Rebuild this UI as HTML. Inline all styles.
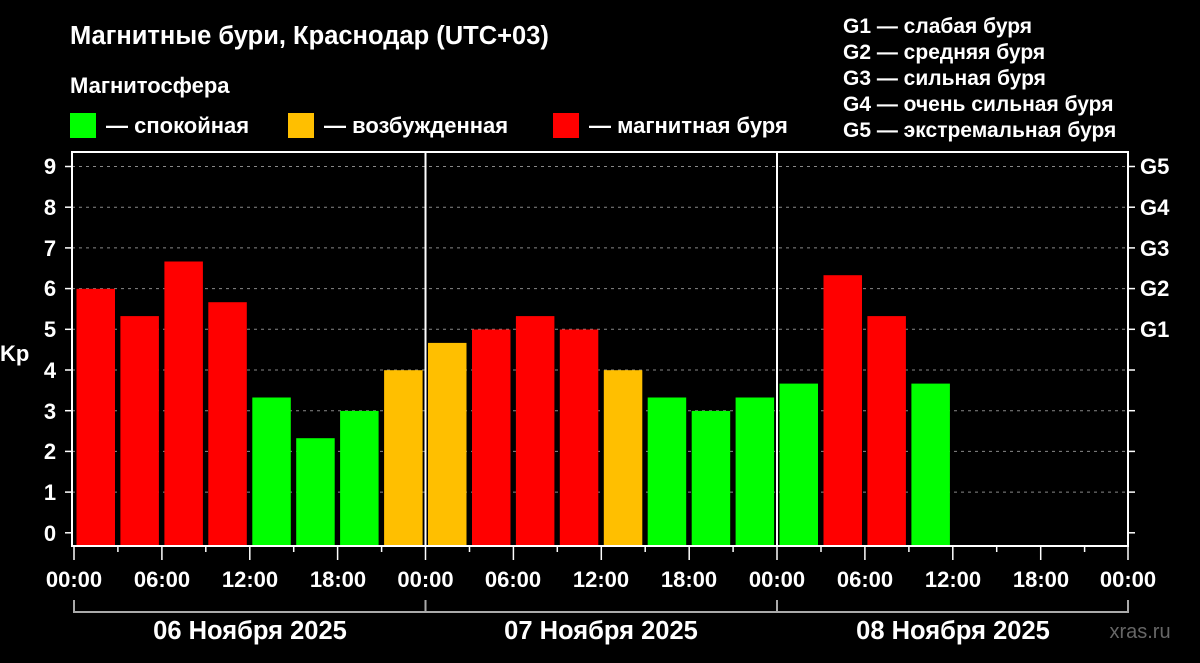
<!DOCTYPE html>
<html><head><meta charset="utf-8"><style>
html,body{margin:0;padding:0;background:#000;}
svg{display:block}
text{font-family:"Liberation Sans",sans-serif;font-weight:bold;fill:#fff}
</style></head><body>
<svg width="1200" height="663" viewBox="0 0 1200 663">
<rect width="1200" height="663" fill="#000"/>
<text x="70" y="44" font-size="25.5">Магнитные бури, Краснодар (UTC+03)</text>
<text x="70" y="93" font-size="22">Магнитосфера</text>
<rect x="70" y="113" width="26" height="25" fill="#00ff00"/>
<text x="106" y="133" font-size="22">— спокойная</text>
<rect x="288" y="113" width="26" height="25" fill="#ffbf00"/>
<text x="324" y="133" font-size="22">— возбужденная</text>
<rect x="553" y="113" width="26" height="25" fill="#ff0000"/>
<text x="589" y="133" font-size="22">— магнитная буря</text>
<g font-size="21">
<text x="843" y="33">G1 — слабая буря</text>
<text x="843" y="59">G2 — средняя буря</text>
<text x="843" y="85">G3 — сильная буря</text>
<text x="843" y="111">G4 — очень сильная буря</text>
<text x="843" y="137">G5 — экстремальная буря</text>
</g>
<g stroke="#888" stroke-dasharray="3,4" stroke-width="1">
<line x1="72" x2="1128" y1="166.5" y2="166.5"/>
<line x1="72" x2="1128" y1="207.2" y2="207.2"/>
<line x1="72" x2="1128" y1="247.9" y2="247.9"/>
<line x1="72" x2="1128" y1="288.6" y2="288.6"/>
<line x1="72" x2="1128" y1="329.3" y2="329.3"/>
<line x1="72" x2="1128" y1="370" y2="370"/>
<line x1="72" x2="1128" y1="410.7" y2="410.7"/>
<line x1="72" x2="1128" y1="451.4" y2="451.4"/>
<line x1="72" x2="1128" y1="492.1" y2="492.1"/>
</g>
<g>
<rect x="76.5" y="288.8" width="38.5" height="257.2" fill="#ff0000"/>
<rect x="120.4" y="316.1" width="38.5" height="229.9" fill="#ff0000"/>
<rect x="164.4" y="261.5" width="38.5" height="284.5" fill="#ff0000"/>
<rect x="208.3" y="302.2" width="38.5" height="243.8" fill="#ff0000"/>
<rect x="252.3" y="397.5" width="38.5" height="148.5" fill="#00ff00"/>
<rect x="296.2" y="438.2" width="38.5" height="107.8" fill="#00ff00"/>
<rect x="340.1" y="410.9" width="38.5" height="135.1" fill="#00ff00"/>
<rect x="384.1" y="370.2" width="38.5" height="175.8" fill="#ffbf00"/>
<rect x="428.0" y="342.9" width="38.5" height="203.1" fill="#ffbf00"/>
<rect x="472.0" y="329.5" width="38.5" height="216.5" fill="#ff0000"/>
<rect x="515.9" y="316.1" width="38.5" height="229.9" fill="#ff0000"/>
<rect x="559.8" y="329.5" width="38.5" height="216.5" fill="#ff0000"/>
<rect x="603.8" y="370.2" width="38.5" height="175.8" fill="#ffbf00"/>
<rect x="647.7" y="397.5" width="38.5" height="148.5" fill="#00ff00"/>
<rect x="691.7" y="410.9" width="38.5" height="135.1" fill="#00ff00"/>
<rect x="735.6" y="397.5" width="38.5" height="148.5" fill="#00ff00"/>
<rect x="779.5" y="383.6" width="38.5" height="162.4" fill="#00ff00"/>
<rect x="823.5" y="275.2" width="38.5" height="270.8" fill="#ff0000"/>
<rect x="867.4" y="316.1" width="38.5" height="229.9" fill="#ff0000"/>
<rect x="911.4" y="383.6" width="38.5" height="162.4" fill="#00ff00"/>
</g>
<g stroke="#fff" stroke-width="2" fill="none">
<rect x="72" y="152" width="1056" height="394"/>
<line x1="425.5" x2="425.5" y1="152" y2="546"/>
<line x1="777" x2="777" y1="152" y2="546"/>
</g>
<g stroke="#fff" stroke-width="1.5">
<line x1="65" x2="72" y1="532.8" y2="532.8"/><line x1="65" x2="72" y1="492.1" y2="492.1"/><line x1="65" x2="72" y1="451.4" y2="451.4"/><line x1="65" x2="72" y1="410.7" y2="410.7"/><line x1="65" x2="72" y1="370" y2="370"/><line x1="65" x2="72" y1="329.3" y2="329.3"/><line x1="65" x2="72" y1="288.6" y2="288.6"/><line x1="65" x2="72" y1="247.9" y2="247.9"/><line x1="65" x2="72" y1="207.2" y2="207.2"/><line x1="65" x2="72" y1="166.5" y2="166.5"/>
<line x1="1128" x2="1135" y1="532.8" y2="532.8"/><line x1="1128" x2="1135" y1="492.1" y2="492.1"/><line x1="1128" x2="1135" y1="451.4" y2="451.4"/><line x1="1128" x2="1135" y1="410.7" y2="410.7"/><line x1="1128" x2="1135" y1="370" y2="370"/><line x1="1128" x2="1135" y1="329.3" y2="329.3"/><line x1="1128" x2="1135" y1="288.6" y2="288.6"/><line x1="1128" x2="1135" y1="247.9" y2="247.9"/><line x1="1128" x2="1135" y1="207.2" y2="207.2"/><line x1="1128" x2="1135" y1="166.5" y2="166.5"/>
<line x1="74" x2="74" y1="546" y2="560"/><line x1="117.9" x2="117.9" y1="546" y2="552"/><line x1="161.9" x2="161.9" y1="546" y2="560"/><line x1="205.8" x2="205.8" y1="546" y2="552"/><line x1="249.8" x2="249.8" y1="546" y2="560"/><line x1="293.7" x2="293.7" y1="546" y2="552"/><line x1="337.6" x2="337.6" y1="546" y2="560"/><line x1="381.6" x2="381.6" y1="546" y2="552"/><line x1="425.5" x2="425.5" y1="546" y2="560"/><line x1="469.5" x2="469.5" y1="546" y2="552"/><line x1="513.4" x2="513.4" y1="546" y2="560"/><line x1="557.3" x2="557.3" y1="546" y2="552"/><line x1="601.3" x2="601.3" y1="546" y2="560"/><line x1="645.2" x2="645.2" y1="546" y2="552"/><line x1="689.2" x2="689.2" y1="546" y2="560"/><line x1="733.1" x2="733.1" y1="546" y2="552"/><line x1="777" x2="777" y1="546" y2="560"/><line x1="821" x2="821" y1="546" y2="552"/><line x1="864.9" x2="864.9" y1="546" y2="560"/><line x1="908.9" x2="908.9" y1="546" y2="552"/><line x1="952.8" x2="952.8" y1="546" y2="560"/><line x1="996.7" x2="996.7" y1="546" y2="552"/><line x1="1040.7" x2="1040.7" y1="546" y2="560"/><line x1="1084.6" x2="1084.6" y1="546" y2="552"/><line x1="1128" x2="1128" y1="546" y2="560"/>
</g>
<g font-size="22" text-anchor="middle">
<text x="50" y="541">0</text><text x="50" y="500">1</text><text x="50" y="459">2</text><text x="50" y="419">3</text><text x="50" y="378">4</text><text x="50" y="337">5</text><text x="50" y="296">6</text><text x="50" y="256">7</text><text x="50" y="215">8</text><text x="50" y="174">9</text>
</g>
<text x="0" y="361" font-size="22">Kp</text>
<g font-size="22">
<text x="1140" y="337">G1</text><text x="1140" y="296">G2</text><text x="1140" y="256">G3</text><text x="1140" y="215">G4</text><text x="1140" y="174">G5</text>
</g>
<g font-size="22" text-anchor="middle">
<text x="74" y="587">00:00</text><text x="162" y="587">06:00</text><text x="250" y="587">12:00</text><text x="338" y="587">18:00</text>
<text x="425.5" y="587">00:00</text><text x="513" y="587">06:00</text><text x="601" y="587">12:00</text><text x="689" y="587">18:00</text>
<text x="777" y="587">00:00</text><text x="865" y="587">06:00</text><text x="953" y="587">12:00</text><text x="1041" y="587">18:00</text><text x="1128" y="587">00:00</text>
</g>
<g stroke="#aaa" stroke-width="2" fill="none">
<polyline points="74,600 74,612 1128,612 1128,600"/>
<line x1="425.5" x2="425.5" y1="600" y2="612"/>
<line x1="777" x2="777" y1="600" y2="612"/>
</g>
<g font-size="25.5" text-anchor="middle">
<text x="250" y="639">06 Ноября 2025</text>
<text x="601" y="639">07 Ноября 2025</text>
<text x="953" y="639">08 Ноября 2025</text>
</g>
<text x="1140" y="638" font-size="20" text-anchor="middle" style="fill:#666;font-weight:normal">xras.ru</text>
</svg>
</body></html>
